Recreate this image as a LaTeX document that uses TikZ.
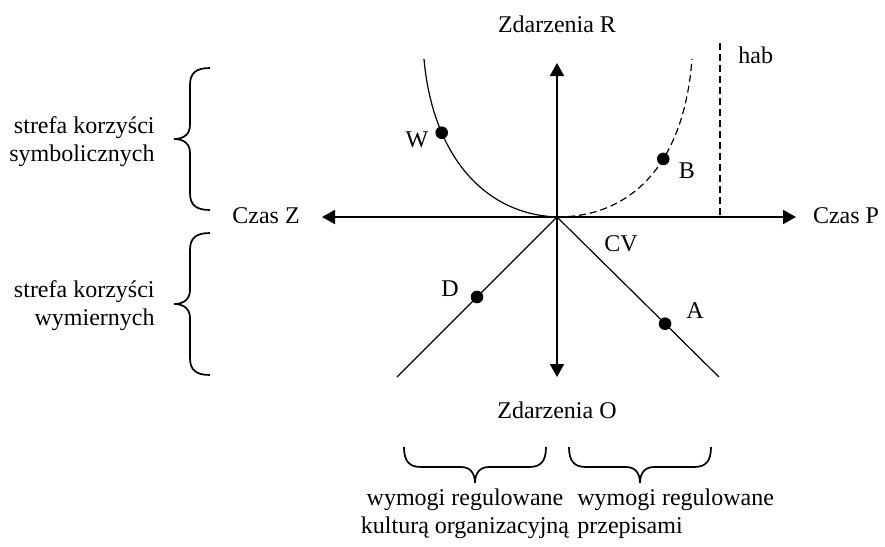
\documentclass[tikz,border=0pt]{standalone}
\usepackage{fontspec}
\setmainfont{Liberation Serif}
\usetikzlibrary{arrows.meta}
\begin{document}
\begin{tikzpicture}[x=0.5pt, y=-0.5pt,
  every node/.style={font=\fontsize{12}{14}\selectfont, inner sep=0pt},
  axis/.style={line width=0.95pt, {Triangle[length=6.5pt,width=7pt]}-{Triangle[length=6.5pt,width=7pt]}},
  thin line/.style={line width=0.6pt},
  dashed line/.style={line width=0.6pt, dash pattern=on 3.5pt off 2pt},
  dot/.style={circle, fill, inner sep=0pt, minimum size=6.3pt},
  bracket/.style={line width=0.85pt},
  curly/.pic={\draw[bracket] (36,-71) .. controls (22,-71) and (16,-66) .. (16,-54) -- (16,-14)
    .. controls (16,-5) and (10,0) .. (0,0) .. controls (10,0) and (16,5) .. (16,14) -- (16,54)
    .. controls (16,66) and (22,71) .. (36,71);}]
\useasboundingbox (0,0) rectangle (885,547);
% axes
\coordinate (o) at (557,217);
\coordinate (zleft) at (322,217);
\coordinate (pright) at (796,217);
\coordinate (rtop) at (557,63);
\coordinate (obottom) at (557,377);
\draw[axis] (zleft) -- (pright);
\draw[axis] (obottom) -- (rtop);
\node[anchor=base] (zdr) at (557,32) {Zdarzenia R};
\node[anchor=base] (zdo) at (557,418) {Zdarzenia O};
\node[anchor=base] (czasz) at (266,223) {Czas Z};
\node[anchor=base] (czasp) at (846,223) {Czas P};
% curves
\coordinate (wtop) at (424,59);
\coordinate (btop) at (692,59);
\draw[thin line] (wtop) .. controls (432,150) and (480,214) .. (o) node[dot, pos=0.3] (W) {};
\draw[dashed line] (o) .. controls (630,217) and (684,166) .. (btop) node[dot, pos=0.61] (B) {};
\node[anchor=base] (wlab) at (417,147) {W};
\node[anchor=base] (blab) at (687,178) {B};
% hab
\coordinate (habtop) at (720,43);
\coordinate (habbot) at (720,215);
\draw[dashed line] (habtop) -- (habbot);
\node[anchor=base west] (hab) at (738,63) {hab};
% lines
\coordinate (dend) at (397,377);
\coordinate (aend) at (719,377);
\draw[thin line] (o) -- (dend) node[dot, pos=0.5] (D) {};
\draw[thin line] (o) -- (aend) node[dot, pos=0.667] (A) {};
\node[anchor=base] (dlab) at (450,296) {D};
\node[anchor=base] (alab) at (695,318) {A};
\node[anchor=base] (cv) at (621,251) {CV};
% braces
\pic at (174,139) {curly};
\pic at (174,304) {curly};
\pic[rotate=90] at (475,483) {curly};
\pic[rotate=90] at (640,483) {curly};
\node[anchor=east, align=right] (symb) at (155,142) {strefa korzyści\\symbolicznych};
\node[anchor=east, align=right] (wym) at (155,306) {strefa korzyści\\wymiernych};
\node[align=center] (kult) at (465,514) {wymogi regulowane\\kulturą organizacyjną};
\node[anchor=west, align=left] (przep) at (577,514) {wymogi regulowane\\przepisami};
\end{tikzpicture}
\end{document}
